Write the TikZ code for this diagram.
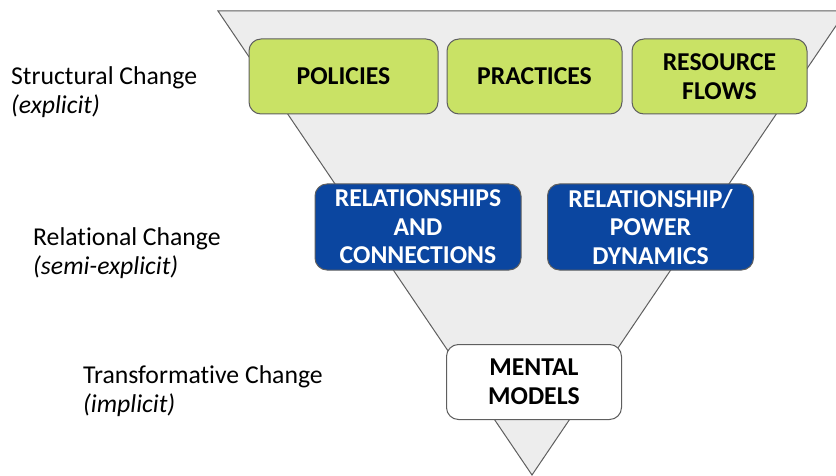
\documentclass[tikz,border=0pt]{standalone}
\usepackage{fontspec}
\setmainfont[Ligatures={NoCommon}]{Carlito}
\begin{document}
\begin{tikzpicture}[x=1pt,y=-1pt,
  box/.style={draw=boxline, line width=1pt, rounded corners=12pt, align=center,
    inner sep=0pt, font=\bfseries\fontsize{25.7}{28.6}\selectfont},
  greenbox/.style={box, fill=limegreen, text=black},
  bluebox/.style={box, fill=royal, text=white},
  whitebox/.style={box, fill=white, text=black},
  lab/.style={anchor=base west, inner sep=0pt, font=\fontsize{25.7}{29}\selectfont, text=black}]
\definecolor{limegreen}{HTML}{C9E265}
\definecolor{royal}{HTML}{0B46A0}
\definecolor{boxline}{HTML}{5F5F5F}
\definecolor{funnel}{HTML}{EDEDED}
\useasboundingbox (0,0) rectangle (836,476);
\clip (0,0) rectangle (836,476);
\draw[fill=funnel, draw=boxline, line width=1pt] (218,11) -- (846,11) -- (532,475) -- cycle;
\node[greenbox, minimum width=189pt, minimum height=75pt] (pol) at (343.5,76.5) {POLICIES};
\node[greenbox, minimum width=175pt, minimum height=75pt] (pra) at (534.5,76.5) {PRACTICES};
\node[greenbox, minimum width=175pt, minimum height=75pt] (res) at (719.5,76.5) {RESOURCE\\FLOWS};
\node[bluebox, minimum width=206pt, minimum height=86pt] (rel) at (418,227) {RELATIONSHIPS\\AND\\CONNECTIONS};
\node[bluebox, minimum width=206pt, minimum height=86pt] (pow) at (650.5,227) {RELATIONSHIP/\\POWER\\DYNAMICS};
\node[whitebox, minimum width=175pt, minimum height=75pt] (men) at (534,382) {MENTAL\\MODELS};
\node[lab] (s1) at (11,85) {Structural Change};
\node[lab] (s2) at (11,114) {\itshape (explicit)};
\node[lab] (r1) at (33,245) {Relational Change};
\node[lab] (r2) at (33,274) {\itshape (semi-explicit)};
\node[lab] (t1) at (83,383) {Transformative Change};
\node[lab] (t2) at (83,412) {\itshape (implicit)};
\end{tikzpicture}
\end{document}
